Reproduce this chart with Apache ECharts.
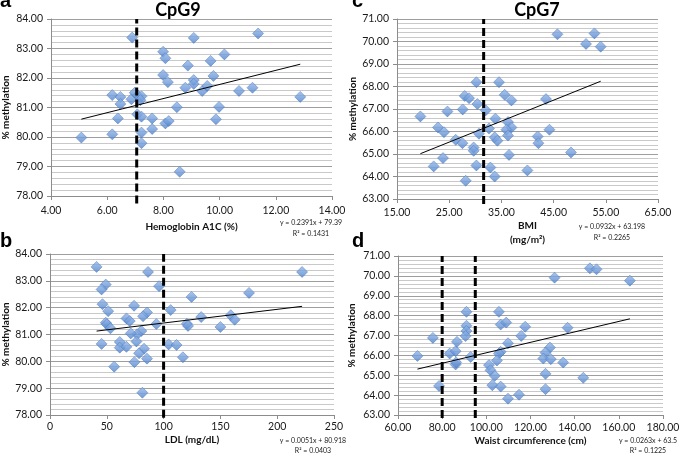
<!DOCTYPE html>
<html><head><meta charset="utf-8">
<script src="https://cdn.jsdelivr.net/npm/echarts@6/dist/echarts.min.js"></script>
<style>html,body{margin:0;padding:0;background:#fff}#c{width:685px;height:457px}</style>
</head><body><div id="c"></div>
<script>
// ---- Panel a: CpG9 vs Hemoglobin A1C ----
const hba1c = [5.08, 6.18, 6.18, 6.38, 6.47, 6.47, 6.89, 6.86, 6.98, 7.10, 7.22, 7.18, 7.07, 7.22, 7.22, 7.22, 7.60, 7.60, 7.99, 8.07, 7.99, 8.16, 8.07, 8.19, 8.48, 8.58, 8.78, 8.87, 9.08, 9.08, 9.08, 9.38, 9.56, 9.68, 9.78, 9.87, 9.98, 10.17, 10.69, 11.17, 11.37, 12.87];
const cpg9ByHba1c = [79.98, 81.42, 80.09, 80.63, 81.36, 81.12, 83.37, 81.28, 81.50, 81.40, 81.38, 81.25, 80.77, 80.69, 80.15, 79.79, 80.63, 80.27, 82.89, 82.67, 82.10, 81.86, 80.46, 80.54, 81.01, 78.82, 81.67, 82.42, 83.36, 81.93, 81.80, 81.56, 81.73, 82.58, 82.07, 80.60, 81.02, 82.80, 81.56, 81.67, 83.51, 81.36];
// ---- Panel b: CpG9 vs LDL ----
const ldl = [41.0, 86.3, 49.1, 45.4, 96.0, 46.2, 51.2, 74.0, 106.2, 85.4, 81.9, 49.1, 50.0, 53.2, 67.3, 70.2, 93.6, 120.5, 121.5, 80.4, 76.7, 71.1, 76.1, 45.4, 61.4, 61.4, 67.3, 82.8, 78.4, 85.4, 74.3, 56.5, 81.3, 104.4, 111.4, 117.0, 221.9, 175.2, 124.6, 133.1, 159.1, 162.6, 150.0];
const cpg9ByLdl = [83.52, 83.33, 82.86, 82.68, 82.80, 82.13, 81.87, 82.07, 81.91, 81.82, 81.68, 81.44, 81.38, 81.23, 81.60, 81.50, 81.39, 81.40, 81.32, 81.13, 81.01, 81.04, 80.74, 80.65, 80.72, 80.51, 80.54, 80.47, 80.30, 80.10, 79.97, 79.80, 78.83, 80.63, 80.61, 80.15, 83.33, 82.55, 82.40, 81.65, 81.72, 81.55, 81.28];
// ---- Panel c: CpG7 vs BMI ----
const bmi = [19.48, 22.03, 22.85, 24.0, 23.81, 24.66, 26.25, 27.53, 27.59, 27.97, 28.80, 28.16, 29.69, 29.69, 30.21, 30.40, 30.21, 30.71, 31.99, 32.62, 32.89, 33.72, 33.85, 33.72, 34.23, 34.54, 35.63, 36.92, 36.27, 36.92, 35.96, 36.27, 36.46, 39.98, 45.73, 52.82, 51.21, 54.02, 43.54, 44.20, 41.95, 42.09, 48.33];
const cpg7ByBmi = [66.67, 64.45, 66.18, 65.97, 64.82, 66.89, 65.63, 65.48, 66.98, 67.58, 67.48, 63.81, 65.29, 65.14, 68.19, 67.22, 64.49, 65.90, 66.94, 66.13, 64.40, 64.00, 66.57, 65.74, 65.59, 68.19, 67.63, 67.38, 66.42, 66.18, 66.08, 65.82, 64.96, 64.27, 70.32, 70.36, 69.89, 69.77, 67.44, 66.08, 65.78, 65.48, 65.07];
// ---- Panel d: CpG7 vs Waist circumference ----
const waist = [68.8, 75.8, 78.6, 83.4, 86.1, 86.7, 86.1, 86.3, 91.0, 91.0, 91.0, 90.6, 92.9, 105.7, 106.5, 109.0, 117.6, 115.8, 109.8, 106.5, 105.7, 104.8, 101.2, 101.9, 103.8, 102.7, 106.5, 109.8, 114.8, 146.9, 149.9, 130.9, 165.0, 136.8, 128.8, 126.8, 125.8, 129.2, 134.8, 126.8, 143.9, 126.8];
const cpg7ByWaist = [65.97, 66.88, 64.46, 66.09, 66.21, 66.68, 65.54, 65.65, 68.19, 67.49, 67.23, 66.97, 65.92, 68.19, 67.55, 67.65, 67.44, 66.98, 66.61, 66.18, 66.09, 65.74, 65.51, 65.25, 64.97, 64.50, 64.43, 63.82, 64.02, 70.38, 70.33, 69.91, 69.76, 67.39, 66.39, 66.14, 65.84, 65.81, 65.64, 65.07, 64.87, 64.30];

// Trendline coefficients (as printed) and threshold lines
const trendSlopes = [0.2391, 0.0051, 0.0932, 0.0263];
const trendIntercepts = [79.39, 80.918, 63.198, 63.5];
const equations = ['y = 0.2391x + 79.39', 'y = 0.0051x + 80.918', 'y = 0.0932x + 63.198', 'y = 0.0263x + 63.5'];
const rSquared = ['R\u00b2 = 0.1431', 'R\u00b2 = 0.0403', 'R\u00b2 = 0.2265', 'R\u00b2 = 0.1225'];
const thresholds = [[7.05], [100], [31.6], [80, 95]];
const xNames = ['Hemoglobin A1C (%)', 'LDL (mg/dL)', 'BMI\n(mg/m\u00b2)', 'Waist circumference (cm)'];
const yName = '% methylation';
const panelLetters = ['a', 'b', 'c', 'd'];
const panelTitles = ['CpG9', '', 'CpG7', ''];

const xs = [hba1c, ldl, bmi, waist];
const ys = [cpg9ByHba1c, cpg9ByLdl, cpg7ByBmi, cpg7ByWaist];

const FONT = 'Lato, "Liberation Sans", sans-serif';
const chart = echarts.init(document.getElementById('c'));

const grids = [
  {left: 50, top: 19, width: 282, height: 177},
  {left: 49, top: 254, width: 285, height: 161},
  {left: 397, top: 19, width: 261, height: 180},
  {left: 398, top: 256, width: 265, height: 159}
];
const xCfg = [
  {min: 4, max: 14, interval: 2, dec: 2, nameGap: 24, margin: 9},
  {min: 0, max: 250, interval: 50, dec: 0, nameGap: 15, margin: 6},
  {min: 15, max: 65, interval: 10, dec: 2, nameGap: 20, margin: 8},
  {min: 60, max: 180, interval: 20, dec: 2, nameGap: 16, margin: 7}
];
const yCfg = [
  {min: 78, max: 84, nameGap: 40, over: 0.25},
  {min: 78, max: 84, nameGap: 39, over: 0.1},
  {min: 63, max: 71, nameGap: 35, over: 0.22},
  {min: 63, max: 71, nameGap: 41, over: 0.15}
];

const axisColor = '#8c8c8c';
const xAxis = xCfg.map((c, i) => ({
  type: 'value', gridIndex: i, min: c.min, max: c.max, interval: c.interval,
  name: xNames[i], nameLocation: 'middle', nameGap: c.nameGap,
  nameTextStyle: {fontFamily: FONT, fontWeight: 'bold', fontSize: 10, color: '#111', lineHeight: 14},
  axisLine: {show: true, lineStyle: {color: axisColor}},
  axisTick: {show: true, inside: false, length: 4, lineStyle: {color: axisColor}},
  axisLabel: {fontFamily: FONT, fontSize: 10.5, color: '#1a1a1a', margin: c.margin,
    formatter: v => v.toFixed(c.dec)},
  splitLine: {show: false}
}));
const yAxis = yCfg.map((c, i) => ({
  type: 'value', gridIndex: i, min: c.min, max: c.max, interval: 1,
  name: yName, nameLocation: 'middle', nameGap: c.nameGap,
  nameTextStyle: {fontFamily: FONT, fontWeight: 'bold', fontSize: 10, color: '#111'},
  axisLine: {show: true, lineStyle: {color: axisColor}},
  axisTick: {show: true, length: 4, lineStyle: {color: axisColor}},
  axisLabel: {fontFamily: FONT, fontSize: 10.5, color: '#1a1a1a', margin: 8,
    formatter: v => v.toFixed(2)},
  splitLine: {show: true, lineStyle: {color: '#9e9e9e', width: 1}},
  minorTick: {show: false, splitNumber: 5},
  minorSplitLine: {show: true, lineStyle: {color: '#c9c9c9', width: 1}}
}));

const series = [];
const markerColor = new echarts.graphic.LinearGradient(0, 0, 0, 1, [
  {offset: 0, color: '#95b8ea'}, {offset: 1, color: '#4f82cc'}]);
xs.forEach((xv, i) => {
  series.push({
    type: 'scatter', xAxisIndex: i, yAxisIndex: i, symbol: 'diamond', symbolSize: [11, 11],
    itemStyle: {color: markerColor, borderColor: '#4776b8', borderWidth: 0.6},
    data: xv.map((x, k) => [x, ys[i][k]]), z: 3, silent: true
  });
  const x0 = Math.min(...xv), x1 = Math.max(...xv);
  series.push({
    type: 'line', xAxisIndex: i, yAxisIndex: i, symbol: 'none', silent: true, z: 4,
    lineStyle: {color: '#000', width: 1},
    data: [[x0, trendSlopes[i] * x0 + trendIntercepts[i]], [x1, trendSlopes[i] * x1 + trendIntercepts[i]]]
  });
  thresholds[i].forEach(t => {
    series.push({
      type: 'line', xAxisIndex: i, yAxisIndex: i, symbol: 'none', silent: true, z: 5, clip: false,
      lineStyle: {color: '#000', width: 3, type: [8, 4]},
      data: [[t, yCfg[i].min - yCfg[i].over], [t, yCfg[i].max]]
    });
  });
});

const letterPos = [[0, 1], [0, 241], [352, 1], [352, 241]];
const titlePos = [[178, 10], null, [537, 10], null];
const eqPos = [[311, 223, 234], [313, 441, 451], [612, 227, 238], [648, 441, 451]];
const graphic = [];
panelLetters.forEach((L, i) => {
  graphic.push({type: 'text', x: letterPos[i][0], y: letterPos[i][1],
    style: {text: L, font: 'bold 20px "Liberation Sans", Arial, sans-serif', fill: '#000', align: 'left', verticalAlign: 'middle'}});
  if (panelTitles[i]) graphic.push({type: 'text', x: titlePos[i][0], y: titlePos[i][1],
    style: {text: panelTitles[i], font: 'bold 18px ' + FONT, fill: '#000', align: 'center', verticalAlign: 'middle'}});
  graphic.push({type: 'text', x: eqPos[i][0], y: eqPos[i][1],
    style: {text: equations[i], font: '7px ' + FONT, fill: '#222', align: 'center', verticalAlign: 'middle'}});
  graphic.push({type: 'text', x: eqPos[i][0], y: eqPos[i][2],
    style: {text: rSquared[i], font: '7px ' + FONT, fill: '#222', align: 'center', verticalAlign: 'middle'}});
});

chart.setOption({
  animation: false,
  backgroundColor: '#fff',
  grid: grids, xAxis, yAxis, series, graphic
});
</script></body></html>
